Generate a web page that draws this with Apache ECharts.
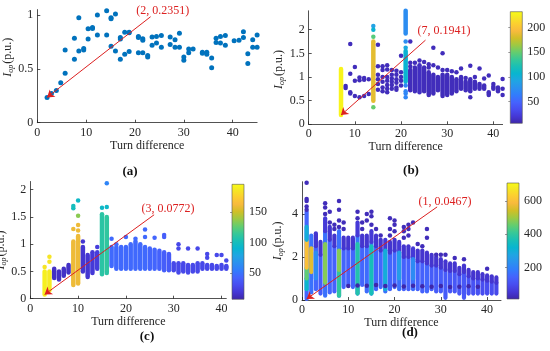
<!DOCTYPE html>
<html><head><meta charset="utf-8">
<script src="https://cdn.jsdelivr.net/npm/echarts@6/dist/echarts.min.js"></script>
<style>html,body{margin:0;padding:0;background:#fff}#c{width:550px;height:351px}</style>
</head><body><div id="c"></div>
<script>
// ---------------- tick labels / ranges ----------------
const xTicks = [0, 10, 20, 30, 40];
const aYTicks = [0, 0.5, 1];
const bYTicks = [0, 0.5, 1, 1.5, 2];
const cYTicks = [0, 0.5, 1, 1.5, 2];
const dYTicks = [0, 2, 4];
const bCbTicks = [50, 100, 150, 200];
const cCbTicks = [50, 100, 150];
const dCbTicks = [200, 400, 600];
const bRange = [6, 232];
const cRange = [7, 196];
const dRange = [12, 708];
const captions = ['(a)', '(b)', '(c)', '(d)'];

// ---------------- panel (a): [turn difference, Iop] ----------------
const aPts = [
 [2,0.2351],[2.9,0.27],[3.9,0.30],[4.8,0.37],[5.7,0.46],[5.7,0.675],[7.6,0.59],[7.6,0.785],[8.5,0.975],[8.5,0.665],
 [9.5,0.69],[9.5,0.675],[10.4,0.873],[10.4,0.777],[11.3,0.883],[11.3,0.875],[12.3,1.0],[12.3,0.814],[14.2,1.04],[14.2,0.814],
 [15.1,0.975],[15.1,0.965],[15.1,0.71],[16.0,1.01],[16.0,0.665],[17.0,0.79],[17.0,0.777],[17.0,0.588],[17.9,0.84],[17.9,0.635],
 [18.8,0.84],[18.8,0.835],[18.8,0.66],[20.7,0.80],[20.7,0.79],[20.7,0.65],[21.6,0.78],[21.6,0.765],[21.6,0.65],[22.6,0.625],
 [22.6,0.61],[23.5,0.795],[23.5,0.72],[24.4,0.80],[24.4,0.74],[25.4,0.81],[25.4,0.70],[27.2,0.795],[27.2,0.725],[28.2,0.77],
 [28.2,0.70],[29.1,0.83],[29.1,0.70],[30.0,0.61],[30.0,0.58],[31.0,0.685],[31.0,0.65],[31.9,0.685],[33.8,0.655],[33.8,0.645],
 [34.7,0.655],[34.7,0.635],[35.7,0.60],[35.7,0.51],[36.6,0.785],[36.6,0.745],[37.5,0.80],[37.5,0.74],[38.5,0.81],[38.5,0.72],
 [40.3,0.76],[41.3,0.765],[42.2,0.845],[42.2,0.79],[43.1,0.64],[43.1,0.55],[44.1,0.77],[44.1,0.70],[45,0.815],[45,0.70]
];
const annA = { tip: [2, 0.2351], tail: [23.2, 0.984], textAt: [25.7, 1.035] };

// ---------------- panel (b): segments [x, yLow, yHigh, count], points [x, y, count] ----------------
const bSegs = [
 [7,0.1941,1.17,228],[14,0.50,1.75,185],[21,1.92,2.40,75],[21,0.90,1.55,105],
 [22,0.72,1.15,12],[23,0.70,1.20,12],[24,0.68,1.25,14],[25,0.70,1.20,12],[26,0.62,1.10,12],
 [27,0.65,1.05,12],[28,0.72,1.00,12],[29,0.60,1.05,12],[30,0.62,1.05,12],[31,0.65,1.00,12],
 [32,0.70,0.95,12],[33,0.75,1.00,12],[34,0.72,0.90,12],[35,0.70,0.95,12],[36,0.75,0.90,12],
 [37,0.75,0.85,12],[38,0.75,0.82,12],[39,0.62,0.68,12],[40,0.75,0.80,12],[41,0.70,0.78,12]
];
const bPts = [
 [8,0.81,12],[8,0.77,12],[9,1.70,12],[9,1.07,12],[9,0.68,12],[9,0.65,12],[10,1.21,12],[10,0.92,12],[10,0.60,12],
 [11,0.99,12],[11,0.93,12],[11,0.57,12],[12,0.98,12],[12,0.94,12],[12,0.60,12],[13,0.95,12],[13,0.64,12],
 [14,2.08,90],[14,2.00,105],[14,1.85,145],[14,0.36,150],
 [15,1.68,12],[15,1.23,12],[15,1.05,12],[15,0.95,12],[15,0.85,12],[15,0.73,12],
 [16,1.23,12],[16,1.15,12],[16,1.00,12],[16,0.90,12],[16,0.78,12],[16,0.70,12],
 [17,1.25,12],[17,1.16,12],[17,1.00,12],[17,0.92,12],[17,0.83,12],[17,0.75,12],[17,0.68,12],
 [18,1.15,12],[18,1.05,12],[18,0.97,12],[18,0.90,12],[18,0.83,12],[18,0.75,12],
 [19,1.13,12],[19,1.05,12],[19,0.95,12],[19,0.88,12],[19,0.78,12],[19,0.73,12],
 [20,1.45,12],[20,1.10,12],[20,1.00,12],[20,0.92,12],[20,0.82,12],
 [21,1.75,75],[21,1.62,95],[21,0.82,70],[21,0.70,70],[21,0.65,70],[21,0.57,70],
 [22,1.75,12],[22,1.30,12],[22,1.22,12],[23,1.30,12],[24,1.35,12],[25,1.32,12],[26,1.27,12],[26,1.20,12],
 [27,1.62,12],[27,1.25,12],[28,1.20,12],[29,1.50,12],[29,1.15,12],[30,1.15,12],[31,1.12,12],[32,1.10,12],
 [33,1.18,12],[34,0.98,12],[35,1.24,12],[35,0.57,12],[36,1.00,12],[37,1.18,12],[38,0.97,12],[39,1.03,12],
 [40,0.85,12],[42,0.96,12],[42,0.75,12],[42,0.62,12]
];
const annB = { tip: [7, 0.1941], tail: [25.3, 1.78], textAt: [29.3, 1.97] };

// ---------------- panel (c) ----------------
const cSegs = [
 [3,0.0772,0.50,190],[4,0.15,0.50,188],
 [5,0.38,0.55,15],[6,0.35,0.50,15],[7,0.42,0.55,15],[8,0.48,0.62,15],
 [9,0.25,1.05,160],[10,0.30,1.15,160],
 [11,0.50,0.95,18],[12,0.40,0.80,18],[13,0.47,0.85,20],[14,0.55,0.85,22],
 [15,0.45,1.55,110],[16,0.50,1.50,112],
 [17,0.60,0.95,46],[18,0.55,0.95,46],[19,0.55,0.95,46],[20,0.55,0.95,46],[21,0.55,1.00,46],
 [22,0.55,1.05,46],[23,0.55,1.00,46],[24,0.55,0.95,46],[25,0.55,0.92,44],[26,0.55,0.90,44],
 [27,0.55,0.88,42],[28,0.52,0.85,40],[29,0.52,0.82,38],
 [30,0.52,0.65,28],[31,0.48,0.65,28],[32,0.50,0.65,28],[33,0.48,0.62,28],[34,0.50,0.62,28],
 [35,0.50,0.65,28],[36,0.55,0.65,28],[37,0.55,0.62,28],[38,0.55,0.62,28],[39,0.55,0.60,28],
 [40,0.55,0.62,28],[41,0.55,0.60,28]
];
const cPts = [
 [3,0.58,185],[4,0.68,185],[4,0.77,185],
 [9,1.28,160],[9,1.66,100],[9,1.70,100],
 [10,1.25,160],[10,1.35,160],[10,1.52,135],[10,1.80,95],[10,0.28,160],
 [11,1.05,18],[14,0.95,22],
 [15,1.67,95],[16,1.68,95],[16,2.12,60],[16,0.47,110],
 [17,1.10,46],[18,1.00,46],[20,1.13,46],[22,1.10,46],[24,1.27,46],[24,1.13,46],[26,1.12,44],
 [28,1.17,40],[28,1.13,40],[31,1.00,28],[31,0.92,28],[33,0.92,28],[35,0.92,28],
 [37,0.82,28],[37,0.75,28],[39,0.80,28],[40,0.80,28],[41,0.70,28],[41,0.58,28]
];
const annC = { tip: [3, 0.0772], tail: [25.9, 1.54], textAt: [28.8, 1.65] };

// ---------------- panel (d) ----------------
const dSegs = [
 [1,0.0467,4.10,150],[1,0.50,1.00,330],[1,1.00,1.50,450],[1,1.50,2.80,600],[1,2.80,3.40,300],
 [2,0.35,3.00,170],[2,1.30,2.40,560],
 [3,0.50,2.50,150],[3,2.50,3.10,50],[3,1.00,2.20,220],
 [4,0.30,2.10,130],[4,2.10,2.70,50],
 [5,0.20,3.20,170],[5,3.20,3.80,60],[5,0.80,2.60,480],
 [6,0.35,2.80,150],[6,2.80,3.40,50],
 [7,0.40,2.50,140],[7,2.50,3.00,50],
 [8,0.20,3.20,170],[8,0.20,1.40,400],[8,1.40,2.30,480],
 [9,0.60,2.40,150],[9,2.40,2.90,50],
 [10,0.70,2.40,140],[10,2.40,2.90,50],
 [11,0.60,2.40,150],[11,2.40,2.90,50],
 [12,0.30,3.00,180],[12,3.00,3.60,60],[12,0.30,2.60,380],
 [13,0.70,2.50,150],[13,2.50,3.00,50],
 [14,0.40,2.50,160],[14,2.50,3.00,50],
 [15,0.30,2.70,170],[15,2.70,3.20,60],[15,0.30,2.50,360],
 [16,0.50,2.50,150],[16,2.50,3.00,50],
 [17,0.60,2.30,150],[17,2.30,2.80,50],
 [18,0.40,2.30,170],[18,2.30,2.80,60],[18,0.50,2.30,300],
 [19,0.50,2.20,150],[19,2.20,2.70,50],
 [20,0.60,2.30,150],[20,2.30,2.80,50],
 [21,0.50,2.20,170],[21,2.20,2.70,60],[21,1.00,2.20,260],
 [22,0.50,2.00,140],[22,2.00,2.50,50],
 [23,0.50,2.00,140],[23,2.00,2.50,50],
 [24,0.50,1.90,160],[24,1.90,2.40,60],[24,1.00,1.90,220],
 [25,0.50,1.80,140],[25,1.80,2.30,50],
 [26,0.40,1.80,140],[26,1.80,2.30,50],
 [27,0.40,1.70,150],[27,1.70,2.20,50],
 [28,0.50,1.60,130],[28,1.60,2.10,50],
 [29,0.40,1.60,130],[29,1.60,2.00,50],
 [30,0.40,1.50,130],[30,1.50,1.90,50],
 [31,0.10,1.40,130],[31,1.40,1.80,50],
 [32,0.40,1.35,120],[32,1.35,1.70,50],
 [33,0.40,1.35,120],[33,1.35,1.70,50],
 [34,0.30,1.20,120],[34,1.20,1.50,50],
 [35,0.10,1.30,120],[35,1.30,1.60,50],
 [36,0.30,1.10,110],[36,1.10,1.40,50],
 [37,0.30,1.00,110],[37,1.00,1.30,50],
 [38,0.30,1.00,110],[38,1.00,1.30,50],
 [39,0.30,0.95,100],[39,0.95,1.20,50],
 [40,0.30,0.90,100],[40,0.90,1.15,50],
 [41,0.30,0.85,100],[41,0.85,1.10,50],
 [42,0.30,0.80,90],[42,0.80,1.05,50]
];
const dPts = [
 [1,4.20,30],[1,4.35,30],[1,4.60,30],[1,4.70,30],[1,5.45,30],
 [5,4.00,30],[5,4.30,30],[5,4.50,30],[6,3.60,30],[6,4.10,30],[7,3.30,30],[7,3.50,30],
 [8,3.40,30],[8,3.70,30],[8,4.20,30],[8,4.60,30],[9,3.30,30],[9,3.60,30],
 [12,3.80,30],[12,4.10,30],[13,3.30,30],[13,3.60,30],[14,3.70,30],[14,4.00,30],
 [15,3.50,30],[15,3.90,30],[15,4.10,30],[16,3.30,30],[17,3.00,30],
 [19,3.00,30],[19,3.30,30],[19,3.80,30],[20,3.20,30],[20,3.50,30],[20,3.70,30],
 [22,2.90,30],[22,3.20,30],[22,3.40,30],[23,3.00,30],[23,3.30,30],[23,3.50,30],[24,3.60,30],
 [25,2.60,30],[26,2.50,30],[27,2.90,30],[27,3.30,30],[29,2.10,30],[30,2.10,30],[31,2.10,30],
 [33,1.95,30],[35,1.90,30],[40,1.45,30],
 [10,0.65,15],[12,0.68,15],[14,0.66,15],[16,0.70,15],[18,0.65,15],[20,0.68,15],[22,0.63,15],
 [24,0.66,15],[26,0.64,15],[28,0.62,15],[30,0.65,15],[32,0.60,15],[34,0.62,15],[36,0.64,15],[38,0.62,15]
];
const annD = { tip: [1, 0.0467], tail: [29.2, 4.33], textAt: [30.9, 4.58] };

// ---------------- colormap ----------------
const PARULA = ['#3e26a8','#4537d5','#484df0','#4563fd','#327cfc','#2b91ef','#20a5e3','#08b5d0',
 '#19bfb6','#37c897','#64cd6f','#9dc943','#d1bf27','#f8ba3d','#fccf30','#f5e924','#f9fb15'];
const PPOS = PARULA.map((c, i) => i < 16 ? i * 4 / 63 : 1);
function hex2rgb(h){return [1,3,5].map(k=>parseInt(h.substr(k,2),16));}
const PRGB = PARULA.map(hex2rgb);
function parula(t){
  t = Math.max(0, Math.min(1, t));
  for (let i = 0; i < PPOS.length - 1; i++) {
    if (t <= PPOS[i+1]) {
      const f = (t - PPOS[i]) / (PPOS[i+1] - PPOS[i]);
      const a = PRGB[i], b = PRGB[i+1];
      return 'rgb(' + a.map((v,k)=>Math.round(v + (b[k]-v)*f)).join(',') + ')';
    }
  }
  return PARULA[PARULA.length-1];
}
const cmap = (v, r) => parula((v - r[0]) / (r[1] - r[0]));

// ---------------- layout ----------------
const SERIF = '"Liberation Serif", "Times New Roman", serif';
const INK = '#262626';
const RED = '#dc2020';
const grids = [
  {left:37.3, top:9.6, width:219.8, height:113.1},
  {left:308.7, top:10.8, width:193.9, height:113.5},
  {left:30.3, top:181.5, width:196, height:117.2},
  {left:302, top:181.75, width:199, height:118.25},
  {left:510.3, top:11.7, width:12, height:111.6},
  {left:232, top:184.3, width:12, height:115},
  {left:507, top:183, width:12, height:116}
].map(g => Object.assign({outerBoundsMode:'none', containLabel:false}, g));

const xMax = [45, 42, 41, 43];
const yMax = [1.05, 2.4, 2.15, 5.5];
const yTicks = [aYTicks, bYTicks, cYTicks, dYTicks];
const yNamePad = [[0,0,0,18],[0,4,0,0],[0,20,0,0],[0,0,0,0]];

const axisLine = {show:true, lineStyle:{color:INK, width:0.8}};
const axisTick = (vals) => ({show:true, inside:true, length:3, lineStyle:{color:INK, width:0.8}, customValues: vals});
const axisLabel = (vals, margin) => ({show:true, fontFamily:SERIF, fontSize:12, color:INK, margin: margin, customValues: vals});

const xAxes = [], yAxes = [];
for (let i = 0; i < 4; i++) {
  xAxes.push({gridIndex:i, type:'value', min:0, max:xMax[i], axisLine, axisTick:axisTick(xTicks),
    axisLabel:axisLabel(xTicks, 4), splitLine:{show:false},
    name:'Turn difference', nameLocation:'middle', nameGap:15,
    nameTextStyle:{fontFamily:SERIF, fontSize:12, color:INK}});
  yAxes.push({gridIndex:i, type:'value', min:0, max:yMax[i], axisLine, axisTick:axisTick(yTicks[i]),
    axisLabel:axisLabel(yTicks[i], 4), splitLine:{show:false},
    name:'{i|I}{s|op}{n|(p.u.)}', nameLocation:'middle', nameGap:17, nameRotate:90,
    nameTextStyle:{fontFamily:SERIF, fontSize:12, color:INK, padding:yNamePad[i],
      rich:{i:{fontFamily:SERIF, fontStyle:'italic', fontSize:12, color:INK},
            s:{fontFamily:SERIF, fontStyle:'italic', fontSize:8, color:INK, padding:[6,1,0,0]},
            n:{fontFamily:SERIF, fontSize:12, color:INK}}}});
}
const cbRanges = [bRange, cRange, dRange];
const cbTicks = [bCbTicks, cCbTicks, dCbTicks];
for (let k = 0; k < 3; k++) {
  xAxes.push({gridIndex:4+k, type:'value', min:0, max:1, show:false});
  yAxes.push({gridIndex:4+k, type:'value', position:'right', min:cbRanges[k][0], max:cbRanges[k][1],
    axisLine:{show:false}, splitLine:{show:false},
    axisTick:{show:true, inside:true, length:2, lineStyle:{color:'#555', width:0.6}, customValues:cbTicks[k]},
    axisLabel:axisLabel(cbTicks[k], 5)});
}

// ---------------- series helpers ----------------
function segSeries(idx, data, range, w) {
  return {type:'custom', xAxisIndex:idx, yAxisIndex:idx, data, clip:false, silent:true,
    encode:{x:0, y:[1,2]},
    renderItem:(params, api) => {
      const x = api.value(0), y0 = api.value(1), y1 = api.value(2), c = api.value(3);
      const p0 = api.coord([x, y0]), p1 = api.coord([x, y1]);
      return {type:'line', shape:{x1:p0[0], y1:p0[1], x2:p1[0], y2:p1[1]},
        style:{stroke:cmap(c, range), lineWidth:w, lineCap:'round'}};
    }};
}
function annot(ann) {
  return {
    markLine:{silent:true, animation:false, symbol:['none','arrow'], symbolSize:7,
      lineStyle:{color:RED, width:1, type:'solid', opacity:1}, label:{show:false},
      data:[[{coord:ann.tail, symbol:'none'}, {coord:ann.tip, symbol:'arrow', symbolSize:7}]]},
    markPoint:{silent:true, animation:false, symbol:'rect', symbolSize:1, itemStyle:{color:'rgba(0,0,0,0)'},
      label:{show:true, position:'inside', formatter:'(' + ann.tip[0] + ', ' + ann.tip[1] + ')',
        color:RED, fontFamily:SERIF, fontSize:12},
      data:[{coord:ann.textAt}]}
  };
}
function ptSeries(idx, data, range, size, ann) {
  return Object.assign({type:'scatter', xAxisIndex:idx, yAxisIndex:idx, data, clip:false, silent:true,
    symbolSize:size, itemStyle:{opacity:1, color: range ? (p => cmap(p.value[2], range)) : '#0072BD'}}, annot(ann));
}
function cbSeries(k) {
  const r = cbRanges[k];
  const stops = PARULA.map((c, i) => ({offset:1 - PPOS[i], color:c})).reverse();
  return {type:'custom', xAxisIndex:4+k, yAxisIndex:4+k, data:[[0, r[0], r[1]]], silent:true, clip:false,
    encode:{x:0, y:[1,2]},
    renderItem:(params, api) => {
      const a = api.coord([0, api.value(2)]), b = api.coord([1, api.value(1)]);
      return {type:'rect', shape:{x:a[0], y:a[1], width:b[0]-a[0], height:b[1]-a[1]},
        style:{fill:new echarts.graphic.LinearGradient(0,0,0,1,stops), stroke:'#555', lineWidth:0.6}};
    }};
}

const series = [
  ptSeries(0, aPts, null, 5, annA),
  segSeries(1, bSegs, bRange, 4.5),
  ptSeries(1, bPts, bRange, 4.5, annB),
  segSeries(2, cSegs, cRange, 4.5),
  ptSeries(2, cPts, cRange, 4.5, annC),
  segSeries(3, dSegs, dRange, 4.2),
  ptSeries(3, dPts, dRange, 4.5, annD),
  cbSeries(0), cbSeries(1), cbSeries(2)
];

const capPos = [[130,172],[411,171],[147,337],[410,333]];
const graphic = captions.map((t, i) => ({type:'text', x:capPos[i][0], y:capPos[i][1], silent:true,
  style:{text:t, fill:'#111', font:'bold 13px ' + SERIF, textAlign:'center', textVerticalAlign:'middle'}}));

const chart = echarts.init(document.getElementById('c'), null, {renderer:'canvas'});
chart.setOption({animation:false, backgroundColor:'#fff', grid:grids, xAxis:xAxes, yAxis:yAxes, series, graphic});
</script></body></html>
